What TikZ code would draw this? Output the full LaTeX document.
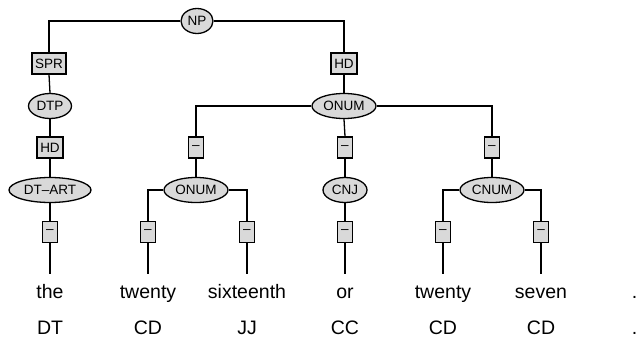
\documentclass[tikz,border=0pt]{standalone}
\usepackage{fontspec}
\setmainfont{Liberation Sans}
\usetikzlibrary{shapes.geometric}
\definecolor{nodefill}{HTML}{D9D9D9}
\tikzset{
  every path/.style={line width=1.3pt},
  cat/.style={ellipse, draw, fill=nodefill, inner sep=0pt, minimum height=25pt,
    font=\fontsize{13.5}{13.5}\selectfont},
  role/.style={rectangle, draw, fill=nodefill, inner sep=0pt, minimum height=21pt,
    font=\fontsize{13.5}{13.5}\selectfont},
  dashbox/.style={role, minimum width=15pt},
  word/.style={anchor=base, inner xsep=0pt, inner ysep=9pt, text height=14pt, text depth=4pt,
    font=\fontsize{19.5}{19.5}\selectfont},
  tag/.style={anchor=base, inner sep=0pt, font=\fontsize{19.5}{19.5}\selectfont},
  link/.style={draw, line width=1.3pt}
}
\begin{document}
\begin{tikzpicture}[x=1pt, y=-1pt]
\useasboundingbox (0,0) rectangle (638,343);

% top level
\node[cat, minimum width=32pt] (np) at (197,21) {NP};
\node[role, minimum width=34pt] (spr) at (49,63.5) {SPR};
\node[role, minimum width=26pt] (hdr) at (344,63.5) {HD};

% determiner branch
\node[cat, minimum width=43pt] (dtp) at (50,106) {DTP};
\node[role, minimum width=26pt] (hdl) at (50,147.5) {HD};
\node[cat, minimum width=82pt] (dtart) at (50,190) {DT--ART};
\node[dashbox] (d1) at (50,232) {--};

% numeral head
\node[cat, minimum width=64pt] (onum) at (344,106) {ONUM};
\node[dashbox] (ma) at (196,147.5) {--};
\node[dashbox] (mb) at (345,147.5) {--};
\node[dashbox] (mc) at (492,147.5) {--};

\node[cat, minimum width=64pt] (onumL) at (196,190) {ONUM};
\node[cat, minimum width=44pt] (cnj) at (345,190) {CNJ};
\node[cat, minimum width=64pt] (cnum) at (492,190) {CNUM};

\node[dashbox] (d2) at (148,232) {--};
\node[dashbox] (d3) at (247,232) {--};
\node[dashbox] (d4) at (345,232) {--};
\node[dashbox] (d5) at (443,232) {--};
\node[dashbox] (d6) at (541,232) {--};

% words
\node[word] (w1) at (50,298) {the};
\node[word] (w2) at (148,298) {twenty};
\node[word] (w3) at (247,298) {sixteenth};
\node[word] (w4) at (345,298) {or};
\node[word] (w5) at (443,298) {twenty};
\node[word] (w6) at (541,298) {seven};
\node[tag, anchor=base east] (w7) at (638,298) {.};

% part-of-speech tags
\node[tag] (t1) at (50,334) {DT};
\node[tag] (t2) at (148,334) {CD};
\node[tag] (t3) at (247,334) {JJ};
\node[tag] (t4) at (345,334) {CC};
\node[tag] (t5) at (443,334) {CD};
\node[tag] (t6) at (541,334) {CD};
\node[tag, anchor=base east] (t7) at (638,334) {.};

% connectors
\path[link] (np.west) -| (spr.north);
\path[link] (np.east) -| (hdr.north);
\path[link] (spr.south) -- (dtp.north);
\path[link] (dtp.south) -- (hdl.north);
\path[link] (hdl.south) -- (dtart.north);
\path[link] (dtart.south) -- (d1.north);
\path[link] (d1.south) -- (w1.north);

\path[link] (hdr.south) -- (onum.north);
\path[link] (onum.west) -| (ma.north);
\path[link] (onum.south) -- (mb.north);
\path[link] (onum.east) -| (mc.north);
\path[link] (ma.south) -- (onumL.north);
\path[link] (mb.south) -- (cnj.north);
\path[link] (mc.south) -- (cnum.north);

\path[link] (onumL.west) -| (d2.north);
\path[link] (onumL.east) -| (d3.north);
\path[link] (cnj.south) -- (d4.north);
\path[link] (cnum.west) -| (d5.north);
\path[link] (cnum.east) -| (d6.north);

\path[link] (d2.south) -- (w2.north);
\path[link] (d3.south) -- (w3.north);
\path[link] (d4.south) -- (w4.north);
\path[link] (d5.south) -- (w5.north);
\path[link] (d6.south) -- (w6.north);
\end{tikzpicture}
\end{document}
